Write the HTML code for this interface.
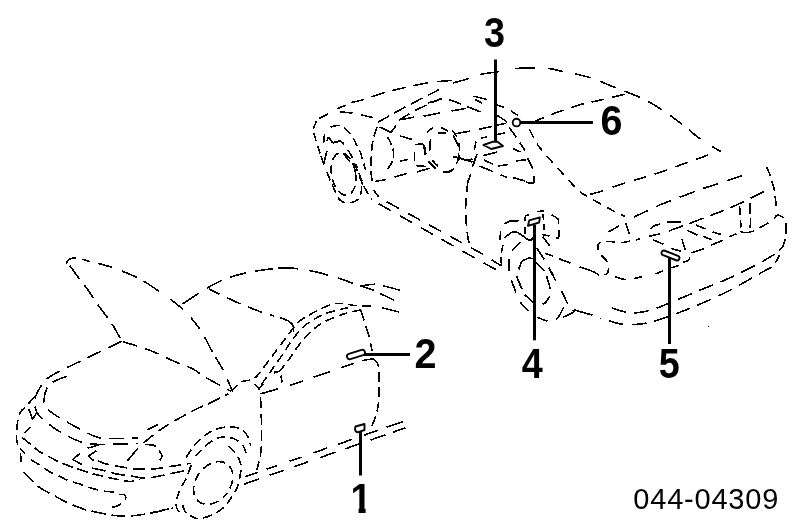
<!DOCTYPE html>
<html lang="en">
<head>
<meta charset="utf-8">
<title>044-04309</title>
<style>
html,body{margin:0;padding:0;background:#fff;}
body{width:800px;height:526px;overflow:hidden;}
svg{display:block;}
.num{font-family:"Liberation Sans",sans-serif;font-weight:bold;font-size:42px;fill:#000;}
.ref{font-family:"Liberation Sans",sans-serif;font-weight:normal;font-size:29px;fill:#000;}
</style>
</head>
<body>
<svg width="800" height="526" viewBox="0 0 800 526" style="will-change:transform">
<rect width="800" height="526" fill="#fff"/>
<g fill="none" stroke="#000" stroke-width="1.6" stroke-linecap="butt" stroke-linejoin="round" shape-rendering="crispEdges">
<path d="M66.5 264C66.7 263.4 66.6 261.4 67.5 260.5C68.4 259.6 70.2 258.7 72 258.3C73.8 257.9 75 257.7 78 258.2C81 258.7 84.7 260.1 90 261.5C95.3 262.9 102.2 264.1 110 266.8C117.8 269.5 128.8 273.4 137 277.5C145.2 281.6 151.3 286 159 291.3C166.7 296.6 176.2 303.1 183 309.5C189.8 315.9 195 322.2 200 329.5C205 336.8 209.2 346.2 213 353C216.8 359.8 219.8 363.7 223 370C226.2 376.3 230.8 387.5 232.3 391" stroke-dasharray="13.4 6.1 8.2 7.9 14.3 10.8 16.4 7.2 18.8 13.5 16.6 10.8 14.9 9.6 16.2 6.6 14.9 10 12.9 50"/>
<path d="M67.5 264C68 264.4 68.2 263.6 70.3 266.3C72.4 269 77.8 276.9 80.3 280.2C82.8 283.5 83 283.3 85.3 286.4C87.6 289.5 91.8 295.6 94.1 299C96.4 302.4 97 303.6 99.1 306.5C101.2 309.4 104.3 313.4 106.6 316.5C108.9 319.6 110.5 321.5 112.9 325.3C115.3 329.1 119.5 337.1 120.8 339.5" stroke-dasharray="16 8" stroke-dashoffset="21"/>
<path d="M121.7 341.3C115.6 344.2 96.9 353.1 85 359C73.1 364.9 57.7 371.6 50.2 376.4C42.7 381.2 42.5 383.8 40 387.7C37.5 391.6 35.3 395.6 35 400C34.7 404.4 34.2 408.9 38 414C41.8 419.1 50.7 425.8 57.7 430.4C64.8 435 73.2 439.3 80.3 441.7C87.3 444.1 93.4 444.1 100 444.5C106.6 444.9 113.7 444.2 120 444C126.3 443.8 135 443.6 138 443.5" stroke-dasharray="15 8"/>
<path d="M66.5 376.4C64.6 377.2 58.1 379.3 55 381C51.9 382.7 49.5 383.3 47.7 386.5C45.9 389.7 44 396.2 44 400C44 403.8 45.4 406.2 47.7 409C50 411.8 53.1 413.7 57.7 416.6C62.3 419.5 69 423.3 75.3 426.6C81.6 429.9 90 434.6 95.4 436.6C100.9 438.6 100.9 438.2 108 438.4C115.1 438.6 133 438.1 138 438" stroke-dasharray="15 8"/>
<path d="M143.5 443C146 441 153.1 434.8 158.5 431C163.9 427.2 169.6 423.8 175.8 420.2C182.1 416.6 190.1 412.2 196 409.3C201.9 406.4 205.6 405.1 211 402.5C216.4 399.9 225.6 395.2 228.5 393.8" stroke-dasharray="13 6"/>
<path d="M147.3 429.8L157.8 424.7"/>
<path d="M122.5 341.6C127.1 343.1 141.2 347 150 350.4C158.8 353.8 167.8 358.6 175 361.7C182.2 364.8 188 366.4 193 369C198 371.6 198.7 373.3 205 377C211.3 380.7 226.7 389 231 391.4" stroke-dasharray="15 8"/>
<path d="M371.3 305.8C368.7 305.8 360.5 306 355.5 305.6C350.5 305.2 345.6 303.6 341.5 303.4C337.4 303.2 335.4 303.2 331 304.6C326.6 306 320.6 308.8 315.3 311.6C310.1 314.4 304.2 317.2 299.5 321.3C294.8 325.4 291.7 330.5 287.3 336C282.9 341.5 277.4 349.1 273.3 354.5C269.2 359.9 265.6 364.9 262.8 368.5C260 372.1 258.7 374.5 256.6 376.4C254.6 378.3 253 379.1 250.5 380C248 380.9 245 379.9 241.8 381.8C238.6 383.7 233.2 389.8 231.5 391.4" stroke-dasharray="9 5"/>
<path d="M348.5 307.6C346.8 308 342.4 308.8 338 310C333.6 311.2 327.8 312.4 322.3 315C316.8 317.6 309.8 321.5 304.8 325.6C299.8 329.7 296.3 334.6 292.5 339.6C288.7 344.6 285.5 350.3 282 355.4C278.5 360.5 274.7 365.8 271.5 370.3C268.3 374.8 264.9 379.6 262.8 382.5C260.7 385.4 259.6 387.1 259 388" stroke-dasharray="9 5"/>
<path d="M360.8 310C358.8 310.4 352.3 311.5 348.5 312.5C344.7 313.5 342.1 314.4 338 316C333.9 317.6 327.5 320.2 324 322C320.5 323.8 319.9 324.2 317 326.5C314.1 328.8 309.7 332.6 306.5 336C303.3 339.4 300.1 343.5 297.8 346.6C295.5 349.7 294.6 351.6 292.5 354.5C290.4 357.4 287.7 361.2 285.5 364C283.3 366.8 281.1 369.5 279.4 371C277.6 372.5 275.7 372.7 275 373" stroke-dasharray="9 5"/>
<path d="M182.6 304C186.8 301.3 199.3 292.2 207.7 287.6C216.1 283 223.6 279.2 232.8 276.3C242 273.4 253.8 271.4 263 270C272.2 268.6 279.7 267.8 288 268C296.3 268.2 304.7 269.6 313 271.3C321.3 273 331.4 276.1 338 278.1C344.6 280.1 350.2 282.4 352.7 283.2" stroke-dasharray="19.4 9.9 17.2 8.3 16.8 8 18.8 5.5 19.8 11.4 19.4 10.3 15.6 50"/>
<path d="M374.8 284.2L360.2 285.7L373.8 290.2" stroke-width="1.5"/>
<path d="M382.9 285.7L400 290.2" stroke-width="1.4"/>
<path d="M380.4 293.7L394 300.3" stroke-width="1.4"/>
<path d="M381.9 307.8L399 311.9" stroke-width="1.4"/>
<path d="M209 289C213.8 291.3 228.8 298.8 237.8 302.7C246.8 306.6 257 310.5 263 312.7C269 314.9 272.2 315.4 274 316" stroke-dasharray="15 8" stroke-dashoffset="3"/>
<path d="M280.3 317.8C281.8 318.4 286.8 319.9 289 321.3C291.2 322.8 292.7 324.7 293.4 326.5C294.1 328.3 293.4 331.1 293.4 332"/>
<path d="M360.8 310L364.3 321L369.5 338L372 351" stroke-dasharray="11 6"/>
<path d="M373 359C373.7 359.7 376.4 360.8 377.4 363C378.4 365.2 378.7 366.2 379 372C379.3 377.8 379.4 390.8 379 397.6C378.6 404.4 377.9 407.9 376.7 412.7C375.5 417.5 372.5 424.2 371.7 426.5" stroke-dasharray="10 5"/>
<path d="M260.4 393.9C265.5 392.4 281.9 387.8 290.8 385C299.7 382.2 305.1 380.2 313.5 377.3C321.9 374.4 333.3 370.4 341.5 367.6C349.7 364.8 357.2 362.1 362.5 360.6C367.8 359.2 371.2 359.2 373 358.9" stroke-dasharray="18 12.2 14.1 11.3 17.3 11.7 13.5 9.3 10.7 50"/>
<path d="M260.4 392.6C260.6 399.7 261.7 424.8 261.7 435.3C261.7 445.8 261.2 449.5 260.4 455.4C259.5 461.2 257.2 467.9 256.6 470.4" stroke-dasharray="11 5" stroke-dashoffset="11"/>
<path d="M274 372.5L278 372" stroke-width="2.2"/>
<path d="M281 375.5L282 382.5"/>
<path d="M255 384L259 389L263 384"/>
<path d="M245.4 476.7L257.9 472.3"/>
<path d="M266.7 469.2L277 465.6"/>
<path d="M289.5 461.3L301.5 457.1"/>
<path d="M313.5 452.8L326.8 448.2"/>
<path d="M338 444.3L352 439.4"/>
<path d="M364 435.2L378 430.3"/>
<path d="M386.7 427.2L403 421.5"/>
<path d="M244 484.2L259 479"/>
<path d="M269.5 475.3L283.5 470.4"/>
<path d="M294 466.7L308 461.8"/>
<path d="M320.4 457.5L335.5 452.2"/>
<path d="M345.3 448.8L360.4 443.6"/>
<path d="M370.4 440.1L385.5 434.8"/>
<path d="M393 432.2L405.5 427.8"/>
<path d="M186.2 457.3C187.9 454.9 192.6 447.1 196.3 443C200 438.9 204.4 435.5 208.4 433C212.4 430.5 216.4 429 220.4 428C224.4 427 228.8 426.7 232.5 427C236.2 427.3 239.9 428.2 242.6 430C245.3 431.8 247.2 435.3 248.6 438C249.9 440.7 250.3 444.7 250.7 446" stroke-dasharray="9 5"/>
<path d="M195.3 456.3C197.1 454.4 203 448.1 206.3 445.2C209.7 442.3 212.4 440.4 215.4 439C218.4 437.6 221.3 437 224.5 437C227.7 437 231.5 437.7 234.5 439C237.5 440.3 240.6 442.5 242.6 445C244.6 447.5 245.9 452.7 246.6 454.2" stroke-dasharray="9 5"/>
<path d="M228.5 446.2C229.7 447.4 233.5 450.3 235.5 453.2C237.5 456.1 239.8 460.1 240.6 463.3C241.4 466.5 241.1 468.5 240.6 472.4C240.1 476.3 239.3 482.1 237.6 486.5C235.9 490.9 232.7 495.2 230.5 498.6C228.3 502 227.2 504.1 224.5 506.6C221.8 509.1 218.4 511.7 214.4 513.7C210.4 515.7 204 518.2 200.3 518.7C196.6 519.2 194.7 517.9 192.2 516.7C189.7 515.5 187 514.4 185.2 511.7C183.4 509 181.9 502.5 181.2 500.6" stroke-dasharray="9 5"/>
<path d="M226.8 493.2C225.6 494.9 224.1 496.4 222.7 497.7C221.2 499.1 219.5 500.3 217.9 501.2C216.2 502.2 214.5 503 212.8 503.5C211.1 504 209.4 504.3 207.7 504.4C206.1 504.4 204.5 504.2 203.1 503.8C201.6 503.3 200.2 502.7 199.1 501.8C197.9 500.9 196.8 499.8 196 498.5C195.2 497.2 194.6 495.7 194.2 494.1C193.8 492.6 193.6 490.8 193.6 489C193.6 487.3 193.9 485.4 194.4 483.5C194.8 481.7 195.6 479.8 196.4 478C197.3 476.2 198.4 474.4 199.6 472.8C200.8 471.1 202.3 469.6 203.7 468.3C205.2 466.9 206.9 465.7 208.5 464.8C210.2 463.8 211.9 463 213.6 462.5C215.3 462 217 461.7 218.7 461.6C220.3 461.6 221.9 461.8 223.3 462.2C224.8 462.7 226.2 463.3 227.3 464.2C228.5 465.1 229.6 466.2 230.4 467.5C231.2 468.8 231.8 470.3 232.2 471.9C232.6 473.4 232.8 475.2 232.8 477C232.8 478.7 232.5 480.6 232 482.5C231.6 484.3 230.8 486.2 230 488C229.1 489.8 228 491.6 226.8 493.2Z" stroke-dasharray="9 5.5" stroke-dashoffset="3"/>
<path d="M191.2 465.3C190.4 467.5 188 474.4 186.2 478.4C184.3 482.4 181.8 485.5 180.1 489.5C178.4 493.5 176.4 499.1 176.1 502.6C175.8 506.1 176.9 508.8 178.1 510.7C179.2 512.6 182.2 513.5 183 514" stroke-dasharray="9 5"/>
<path d="M150 513L172.6 508" stroke-dasharray="8 4"/>
<path d="M35 396C33.6 397.7 28.9 403.3 26.5 406C24.1 408.7 22 409.2 20.5 412C19 414.8 18.1 418.8 17.5 422.5C16.9 426.2 16.7 431.2 16.6 434.5C16.5 437.8 16.5 439.7 17 442C17.5 444.3 19.3 447.4 19.8 448.5" stroke-dasharray="10 5"/>
<path d="M19.8 448.5L25 453.8"/>
<path d="M20.5 453L21.3 465.8" stroke-dasharray="9 4"/>
<path d="M23.5 471.8C25.4 473.7 31.9 480.2 34.8 483C37.7 485.8 37 485.9 40.8 488.3C44.5 490.7 52.7 494.8 57.3 497.3C61.9 499.8 64.1 501.3 68.6 503.3C73.1 505.3 80.1 507.9 84.3 509.3C88.5 510.7 90 510.7 94 511.6C98 512.5 104.3 513.9 108.3 514.6C112.3 515.3 114.4 515.6 118 515.8C121.6 516 124.6 516.4 130 516C135.4 515.6 143.4 514.5 150.6 513.2C157.8 511.9 169.3 508.9 173 508" stroke-dasharray="14 6"/>
<path d="M28.8 409L32.5 419.5L37 412"/>
<path d="M24.3 433L30.3 427"/>
<path d="M22 437.5C23.8 438.9 29.6 443.5 32.5 445.8C35.4 448.1 36 449.4 39.3 451.5C42.5 453.6 48.1 456.3 52 458.3C55.9 460.3 58.6 461.9 62.5 463.5C66.4 465.1 71.8 466.8 75.3 468C78.8 469.2 80.6 470 83.6 471C86.6 472 90.6 473.2 93.3 474C96 474.8 97.2 474.9 100 475.5C102.8 476.1 105.7 476.9 109.8 477.8C113.9 478.7 121.3 480.2 124.8 480.8C128.3 481.4 128.5 481.7 131 481.5C133.5 481.3 138.5 480.1 140 479.8" stroke-dasharray="11 5"/>
<path d="M79.8 453.6L72.6 459.6L82 464.4" stroke-width="1.6"/>
<path d="M91.8 468C94.7 468.6 104.9 470.8 109 471.8C113.1 472.8 112.9 473.3 116.6 474C120.3 474.7 126.2 475.3 131 476C135.8 476.7 140.5 478.3 145.3 478.3C150.1 478.3 155.6 476.8 159.6 476C163.6 475.2 165.3 474.7 169.3 473.8C173.3 472.9 180.2 471.9 183.6 470.8C187 469.8 188.9 468.1 190 467.5" stroke-dasharray="14 6"/>
<path d="M96.4 450.6L88.5 456.2L93.8 460.8" stroke-width="1.6"/>
<path d="M98 461C99.4 461.5 103.7 463.2 106.3 464C108.9 464.8 110.4 464.9 113.8 465.5C117.2 466.1 123.2 467.2 126.5 467.8C129.8 468.4 129.3 468.6 133.3 468.8C137.3 469 146.5 468.9 150.6 468.8C154.7 468.8 154.5 468.9 158 468.5C161.5 468.1 168.1 466.9 171.6 466.3C175.1 465.8 175.8 465.7 179 465.2C182.2 464.7 189 463.6 191 463.3" stroke-dasharray="12 6"/>
<path d="M87.5 448.3L99.5 444.5"/>
<path d="M145.3 444.5C146.7 444.6 151.6 444.7 153.6 445.3C155.6 445.9 155.9 446.7 157.3 448.3C158.7 449.9 161.2 453.2 161.8 455C162.4 456.8 161.8 457.6 161 458.8C160.2 460.1 157.9 461.9 157.3 462.5" stroke-dasharray="11 5"/>
<path d="M137.8 448.3L127.3 461" stroke-width="1.7"/>
<path d="M31 459.8C32.6 460.8 37.7 463.8 40.8 465.8C43.9 467.8 46.7 470.1 49.8 471.8C52.9 473.6 56.4 474.8 59.5 476.3C62.6 477.8 65.3 479.6 68.6 480.8C71.8 482.1 76 482.8 79 483.8C82 484.8 83.5 485.8 86.6 486.8C89.7 487.8 94.8 489.1 97.8 489.8C100.8 490.6 102.1 490.9 104.6 491.3C107.1 491.7 110.3 491.5 112.8 492C115.3 492.5 117.6 493.8 119.6 494.3C121.6 494.8 123.8 494.1 124.8 495C125.8 495.9 125.9 498.1 125.3 499.5C124.7 500.9 122.5 502.2 121 503.3C119.5 504.4 119 505.6 116.6 506.3C114.2 507.1 108.4 507.6 106.8 507.8" stroke-dasharray="10 6"/>
<path d="M319.3 118.4C320.8 117.7 325.1 115.6 328 114C330.9 112.4 333.9 110.2 336.8 108.8C339.7 107.4 343.1 106.5 345.5 105.5C347.9 104.5 348.4 103.6 351.4 102.6C354.4 101.6 358.1 101.3 363.6 99.6C369.1 97.9 377.6 94.6 384.6 92.6C391.6 90.6 398.3 89.1 405.6 87.4C412.9 85.8 420.7 83.9 428.4 82.7C436.1 81.5 448.1 80.8 452 80.4" stroke-dasharray="9.8 10.2 9.3 6.6 12.6 8.2 13.9 8.1 13.6 8 15.3 8.5 15.2 50"/>
<path d="M452.9 83C455.5 82.3 464.1 80 468.6 78.6C473.1 77.2 474.9 75.7 480 74.5C485.1 73.3 493.1 72.5 499 71.5C504.9 70.5 509.2 69.2 515.3 68.6C521.4 68 529.9 67.8 535.4 67.8C540.9 67.8 543.4 67.7 548 68.3C552.6 68.9 558.4 70.5 563 71.5C567.6 72.5 570.9 73 575.5 74C580.1 75 586.4 76.5 590.6 77.8C594.8 79 596.4 79.8 600.6 81.5C604.8 83.2 609 85.1 615.7 87.8C622.4 90.5 633.1 94.2 640.6 97.7C648.1 101.2 654.1 104.8 660.7 109C667.3 113.2 673.4 117.7 680 122.7C686.6 127.7 693.5 134.1 700.4 139C707.3 143.9 717.8 149.8 721.3 151.9" stroke-dasharray="16.3 12.1 19.2 16.6 20.1 12.6 15.3 12.7 15.6 10.7 16.4 9.5 16.7 8.9 15.9 10.5 15.2 8.5 14.4 13.9 10.7 50"/>
<path d="M316.5 121C315.9 122.5 313.5 127.2 313.2 129.8C312.9 132.4 314.2 134.2 314.9 136.8C315.6 139.4 316.5 142.3 317.5 145.5C318.5 148.7 320.4 154.2 321 156" stroke-dasharray="8 5"/>
<path d="M321 156L323.6 163.9L327 150.8"/>
<path d="M327 171.8C327.5 173.1 328.8 177 329.8 179.5C330.9 182 331.7 183.7 333.3 187C334.9 190.3 336.9 196.8 339.4 199.5C341.8 202.2 344.9 203 348 203C351.1 203 355.6 201.5 357.8 199.5C360 197.5 360.7 193.7 361.3 190.8C361.9 187.9 361.3 183.5 361.3 182" stroke-dasharray="9 5"/>
<path d="M340.3 111.9L352.5 113"/>
<path d="M361.3 114.9L372.6 117.5"/>
<path d="M377.6 122.4L409 104.9L427.5 95.6L445 86.5" stroke-dasharray="13 6"/>
<path d="M398.6 120.6L413.5 111L441.5 98.4" stroke-dasharray="13 6"/>
<path d="M400.4 119.8L414.4 117"/>
<path d="M330.6 127C332.2 126.7 337.7 124.9 340.3 125.4C342.9 125.9 344.4 127.9 346.4 129.8C348.4 131.7 350.9 134.5 352.5 136.8C354.1 139.1 354.7 141.2 356 143.8C357.3 146.4 359.2 149.6 360.4 152.5C361.6 155.4 362.1 158.4 363 161.3C363.9 164.2 365.2 168.6 365.6 170" stroke-dasharray="9 5"/>
<path d="M324.5 134L323.6 142.9"/>
<path d="M327 141C327.2 140.4 327.6 137.3 328.5 137.6C329.4 137.8 331.8 141.7 332.4 142.5"/>
<path d="M332.4 142.9L340.3 141L344 144" stroke-width="1.8"/>
<path d="M355.3 171.9C355.6 173.7 355.8 175.7 355.9 177.5C355.9 179.3 355.8 181.1 355.6 182.8C355.4 184.5 355 186.1 354.5 187.5C354 188.9 353.4 190.2 352.6 191.3C351.9 192.4 351.1 193.3 350.2 193.9C349.3 194.6 348.3 195 347.2 195.2C346.2 195.4 345.1 195.3 344 195C343 194.7 341.9 194.1 340.8 193.4C339.8 192.6 338.7 191.6 337.8 190.4C336.8 189.3 335.9 187.9 335.1 186.4C334.3 184.9 333.6 183.2 333.1 181.5C332.5 179.8 332 177.9 331.7 176.1C331.4 174.3 331.2 172.3 331.1 170.5C331.1 168.7 331.2 166.9 331.4 165.2C331.6 163.5 332 161.9 332.5 160.5C333 159.1 333.6 157.8 334.4 156.7C335.1 155.6 335.9 154.7 336.8 154.1C337.7 153.4 338.7 153 339.8 152.8C340.8 152.6 341.9 152.7 343 153C344 153.3 345.1 153.9 346.2 154.6C347.2 155.4 348.3 156.4 349.2 157.6C350.2 158.7 351.1 160.1 351.9 161.6C352.7 163.1 353.4 164.8 353.9 166.5C354.5 168.2 355 170.1 355.3 171.9Z" stroke-dasharray="9 5"/>
<path d="M342.9 153.4L349.9 161.3"/>
<path d="M348 149.9L352.5 157.8"/>
<path d="M354.3 163C354.9 164.5 356.8 169.2 357.8 171.8C358.8 174.4 359.4 176.2 360.4 178.8C361.4 181.4 363.3 186.1 363.9 187.5" stroke-dasharray="9 5"/>
<path d="M356 164.5C356.7 166.6 359.1 173.2 360.4 176.8C361.7 180.5 362.7 183.8 363.9 186.4C365.1 189 366.1 190.3 367.4 192.5C368.7 194.7 371.1 198.3 371.8 199.5" stroke-dasharray="9 5" stroke-dashoffset="5"/>
<path d="M373.5 190L378.8 197"/>
<path d="M377 127C376.4 128.8 374.4 133.9 373.5 137.6C372.6 141.3 372.2 145.1 371.8 149C371.4 152.9 371.3 157.2 371.2 161.3C371.1 165.4 371 169.7 371.2 173.5C371.4 177.3 372.4 182.2 372.6 184" stroke-dasharray="10 5"/>
<path d="M379.6 127L391 132.4L396.3 125.4"/>
<path d="M387.5 136.8C388.1 138 390 141.2 391 143.8C392 146.4 393.3 149.7 393.6 152.5C393.9 155.3 393.5 158.1 392.8 160.4C392.1 162.7 390.6 164.6 389.3 166.5C388 168.4 385.6 170.9 384.9 171.8" stroke-dasharray="9 4"/>
<path d="M399.8 161.3L407.6 159.5"/>
<path d="M399.8 135.9L412 139.4"/>
<path d="M414.6 151.6L414.6 161.3"/>
<path d="M415.5 144.6L423.4 143.8"/>
<path d="M424.3 144.6L426 154.3"/>
<path d="M416.4 165.6L426 166.5"/>
<path d="M417.3 171.8L429.5 168.3"/>
<path d="M428.6 161.3L434.8 168.3"/>
<path d="M432 160.4L438 166"/>
<path d="M375.3 181.4L385.8 179.6"/>
<path d="M394.5 177L406.8 173.5"/>
<path d="M378.8 203.9L475.7 258.5L504.5 274.3" stroke-dasharray="14 10"/>
<path d="M385.8 201.3L480.7 253L501.5 266" stroke-dasharray="14 10" stroke-dashoffset="-1"/>
<path d="M497 115.4C498.6 116.5 506.6 120.8 506.6 122.4C506.6 124 498.6 124.6 497 125"/>
<path d="M497 104.9L504 107.5"/>
<path d="M511 111L518 115.4"/>
<path d="M509.3 127.6L516.3 137.3"/>
<path d="M519.8 142.5L525 150.4"/>
<path d="M527.6 158.3L532.9 168.8"/>
<path d="M533.8 175.8L533.8 181"/>
<path d="M497 134.6L504.9 132.9"/>
<path d="M481.3 138.1L487.4 136.9"/>
<path d="M478.6 129.4L491.8 126.4"/>
<path d="M455 133.8L469.9 131.1"/>
<path d="M476 141.6L474.3 149.5"/>
<path d="M476.9 153.9L472.5 167"/>
<path d="M470.8 174L468.1 181"/>
<path d="M458.5 153L459.4 160"/>
<path d="M466.4 160L472.5 159.1"/>
<path d="M453.3 135.5L458.5 146"/>
<path d="M441 127.6L448 131.1"/>
<path d="M430.5 139L429.6 151.3"/>
<path d="M423.5 144.3L425.3 154.8"/>
<path d="M427 132L433.1 127.6"/>
<path d="M442.8 172.3C443.9 172.2 447.9 172.5 449.8 171.9C451.6 171.3 453.4 169.3 454.1 168.8"/>
<path d="M428.8 161.8L435.8 168.8"/>
<path d="M432.3 160L436.6 165.3"/>
<path d="M427.9 103.1L441.9 98.8"/>
<path d="M423.5 116.3L440.1 112.8"/>
<path d="M451.5 111L465.5 108.4"/>
<path d="M448.9 99.6L461.1 104"/>
<path d="M467.3 106.6L480.4 111.9"/>
<path d="M473.4 96.1L487.4 99.6"/>
<path d="M475.1 99.6L482.1 103.1"/>
<path d="M483 155.6L497 152.1"/>
<path d="M483.9 160L493.5 164.4"/>
<path d="M479.5 166.1L492.6 171.4"/>
<path d="M497.9 166.1L508.4 164.4"/>
<path d="M500.5 174.9L507.5 177.5"/>
<path d="M512.8 148.6L520.6 152.1"/>
<path d="M516.3 160.9L525.9 159.7"/>
<path d="M512.8 177.5L525 181"/>
<path d="M453.3 156.5L472.5 161.8" stroke-width="1.9"/>
<path d="M437.5 132.9L446.3 132.9" stroke-width="1.9"/>
<path d="M525.9 182.2C527 182.4 531.1 183.5 532.6 183.3C534.1 183.1 534.3 181.4 534.6 181"/>
<path d="M452 130.5C452.2 130.8 453 131.4 453.5 132C453.9 132.5 454.4 133 454.8 133.6C455.2 134.2 455.6 134.9 456 135.5C456.4 136.2 456.7 136.9 457 137.6C457.4 138.4 457.6 139.1 457.9 139.9C458.2 140.7 458.4 141.5 458.6 142.3C458.8 143.1 459 144 459.1 144.8C459.2 145.7 459.3 146.5 459.4 147.4C459.5 148.3 459.5 149.1 459.5 150C459.5 150.9 459.5 151.7 459.4 152.6C459.3 153.5 459.2 154.3 459.1 155.2C459 156 458.8 156.9 458.6 157.7C458.4 158.5 458.2 159.3 457.9 160.1C457.6 160.9 457.4 161.6 457 162.4C456.7 163.1 456.4 163.8 456 164.5C455.6 165.1 455.2 165.8 454.8 166.4C454.4 167 453.9 167.5 453.5 168C453 168.6 452.5 169.1 452 169.5C451.5 169.9 451 170.3 450.4 170.7C449.9 171 449.4 171.3 448.8 171.6C448.2 171.8 447.7 172 447.1 172.2C446.5 172.3 446 172.4 445.4 172.5C444.8 172.5 444.2 172.5 443.6 172.5C443 172.4 442.2 172.2 441.9 172.2" stroke-dasharray="8 6"/>
<path d="M468 181C467.8 182.5 467.3 184.7 466.9 190C466.5 195.3 465.4 204.8 465.6 212.8C465.8 220.8 467.2 232.6 468 238C468.8 243.4 470.2 244.2 470.6 245.4" stroke-dasharray="11 6"/>
<path d="M532 122.4L555.3 113L580.4 104.5L605.5 99L625.5 94" stroke-dasharray="13 8"/>
<path d="M529.4 129.4C530.3 131.2 533.1 137.1 535 140.4C536.9 143.7 537.5 144.8 540.9 149C544.3 153.2 549.1 158.7 555.3 165.5C561.5 172.3 572.2 184.6 578 190C583.8 195.4 586 195.4 590 197.9C594 200.4 597.9 202.5 602.3 204.9C606.7 207.3 612.5 210.5 616.3 212.4C620.1 214.3 623.5 215.7 625 216.3" stroke-dasharray="9 7"/>
<path d="M590 194.4L603 190.9"/>
<path d="M612.5 187L660 172.4L713.4 153.1" stroke-dasharray="13 9"/>
<path d="M633.8 217.1L660 204.8L700.3 189.4L750.1 172.9" stroke-dasharray="16 9"/>
<path d="M766.8 167.1C767.4 168.6 769.4 173.4 770.3 175.9C771.2 178.4 771.3 179.5 772 182C772.7 184.5 774 187.9 774.6 190.8C775.2 193.7 775.1 196.3 775.5 199.5C775.9 202.7 776.6 208.1 776.8 209.8" stroke-dasharray="10 5"/>
<path d="M773.8 218.8C774.4 218.2 776 215.1 777.6 214.9C779.2 214.7 782.6 217.2 783.6 217.7"/>
<path d="M785.9 223.3L785.9 233.8"/>
<path d="M785 239.3C784.6 240.5 783.9 244.7 782.9 246.5C781.9 248.3 779.6 249.7 779 250.3"/>
<path d="M779.8 254.8L775.3 263"/>
<path d="M648.6 236.4L660 233.8"/>
<path d="M668.8 231L689.8 223.3L727.4 209.1L748.4 199.5L768.5 189" stroke-dasharray="15 7"/>
<path d="M650.4 229.4C651 228.8 652.3 226.8 653.9 225.9C655.5 225 659 224.4 660 224.1"/>
<path d="M667 221.9L681 221.9" stroke-width="1.8"/>
<path d="M653 239.9L663.5 244.3"/>
<path d="M691.5 253L703.8 248.6"/>
<path d="M710.8 245.1L723 240.4"/>
<path d="M729.5 236.8L736.3 233.8"/>
<path d="M759.6 227.8L768.6 222.8"/>
<path d="M739.6 206.5L740.2 215.3"/>
<path d="M740.5 219.6L741 227.5"/>
<path d="M750.1 203L750.1 213.5"/>
<path d="M750.7 217.9L750.1 228.4"/>
<path d="M740 231.3C741 231.5 743.6 232.8 746 232.7C748.4 232.6 752.9 231.3 754.3 231"/>
<path d="M687.1 230.3L697.6 235.2"/>
<path d="M702.9 236.4L711.6 239.5"/>
<path d="M695.9 225L705.5 228.9"/>
<path d="M712.5 231.7L721.3 234.6"/>
<path d="M681.9 239L685.4 250.4"/>
<path d="M671.4 248.6L681 251.3"/>
<path d="M682.8 262.6C683.8 262.2 687.7 260.9 688.9 260C690.1 259.1 689.6 257.8 689.8 257.4"/>
<path d="M671.4 267.9L679.3 265.3"/>
<path d="M655.6 274L663.5 270.5"/>
<path d="M614.5 276.6C616.2 277.1 621.9 279.2 625 279.6C628.1 280 630 279.3 632.9 278.8C635.8 278.3 640.9 277 642.5 276.6" stroke-dasharray="12 8"/>
<path d="M625.9 223.3L629.4 233.8"/>
<path d="M608.4 232L618.9 225.9"/>
<path d="M607.5 306.5C611.2 307.6 622.9 312.2 630 312.8C637.1 313.4 643.3 312 650 310.3C656.7 308.6 661.6 306.1 670 302.7C678.4 299.3 690.3 294.2 700.4 290C710.5 285.8 720.5 282.2 730.5 277.6C740.5 273 753.1 266.5 760.6 262.5C768.1 258.5 772.8 255.2 775.3 253.8" stroke-dasharray="15 8" stroke-dashoffset="18.5"/>
<path d="M600.5 317.7C603.9 318.8 613.9 322.9 620.6 324C627.3 325.1 634.5 324.7 640.7 324C646.9 323.3 652.2 321.7 658 320C663.8 318.3 668.2 316.7 675.3 314C682.4 311.3 691.2 308 700.4 304C709.6 300 720.4 295.2 730.5 290C740.6 284.8 754.1 276.6 761 272.8C767.9 269 769.8 268.2 771.6 267.3" stroke-dasharray="15 8" stroke-dashoffset="14"/>
<path d="M524.8 215.8L529.3 214.7"/>
<path d="M536.8 211.7L544.3 210.8"/>
<path d="M524.8 216.5L525.2 221"/>
<path d="M524.8 227L525.2 233.8"/>
<path d="M542.8 214.3L543.6 220.3"/>
<path d="M543.9 224L544.3 230"/>
<path d="M504.5 224C505.5 223.5 508.1 221.6 510.5 221C512.9 220.5 517.4 220.8 518.8 220.7"/>
<path d="M500.8 231.5L499.7 240.5"/>
<path d="M503 245L501.2 252.6"/>
<path d="M500.8 257.1L501.5 264.6"/>
<path d="M551.8 215C552.8 215.6 556.7 217.3 557.8 218.8C558.9 220.3 558.4 223.1 558.6 224"/>
<path d="M559.3 230C559.2 231.3 559.1 236.2 558.6 237.5C558.1 238.9 556.7 238.2 556.3 238.3"/>
<path d="M504.5 237.5C505.8 236.7 509.9 233.2 512 232.3C514.2 231.4 515.3 231.5 517.3 232.3C519.3 233 521.9 235.4 524 236.8C526.2 238.2 528.5 240.4 530 240.5C531.5 240.7 532.5 238 533 237.5"/>
<path d="M512 250.3L520.3 242"/>
<path d="M509 259.3L509 270.6"/>
<path d="M542.1 234.5L549.6 236"/>
<path d="M542.8 236.8L549.6 245.8"/>
<path d="M536.8 248L544.3 259.3"/>
<path d="M548.8 267.6L554.1 276.6"/>
<path d="M545.1 253.3L553.3 256.3"/>
<path d="M558.6 258.6L570.6 263.1"/>
<path d="M579.6 266.8L594.6 272.1"/>
<path d="M518.8 269.3C519.3 268 520.2 263.6 521.8 261.8C523.4 259.9 526.5 258.8 528.5 258.3C530.5 257.8 532.9 258.7 533.8 258.8"/>
<path d="M536.1 262.2L544.3 270.8"/>
<path d="M546.6 276L550.3 288.8"/>
<path d="M549.9 296.3C549.2 297.3 547 301 545.8 302.3C544.6 303.6 543.3 303.9 542.8 304.2"/>
<path d="M524.8 294.8L533 302.3"/>
<path d="M511.3 279.8L515.8 292.5"/>
<path d="M520.3 302.3L528.5 311.3"/>
<path d="M548.8 267.8L555.6 280.5"/>
<path d="M561.6 291L567.6 303.8"/>
<path d="M563.8 306.8C563.2 308.1 561.3 312.2 560.1 314.3C558.8 316.4 556.9 318.7 556.3 319.6"/>
<path d="M536.8 317.3L547.3 321.1"/>
<path d="M563.1 317.3C564.8 316.4 572.1 313.3 573.6 312.1C575.1 310.8 572.3 310.2 572.1 309.8"/>
<path d="M573.6 309.8L592.4 315.1"/>
<path d="M516.5 276L521.8 288.8" stroke-width="1.8"/>
<path d="M594.6 272.3C595.7 272.9 599.2 275.7 601.4 275.8C603.5 275.9 606.3 274.5 607.5 273C608.7 271.5 608.5 269 608.4 267C608.2 265 608.1 263.2 606.6 260.9C605.1 258.6 601.1 255.5 599.6 253C598.1 250.5 597.9 247.8 597.9 246C597.9 244.2 598.1 243.3 599.6 242.5C601.1 241.7 603.1 241.3 606.6 241.3C610.1 241.3 617.1 242.4 620.6 242.5C624.1 242.6 624.4 242.2 627.6 241.6C630.8 241 637.9 239.4 639.9 239" stroke-dasharray="9 6" stroke-dashoffset="4"/>
</g>

<g fill="none" stroke="#000" stroke-width="3">
<path d="M360.5 432V475.5"/>
<path d="M364 354.5H410"/>
<path d="M495.5 59.5V142"/>
<path d="M534.5 224.8V340.3"/>
<path d="M669.5 258V344"/>
<path d="M520.5 122.5H593"/>
</g>
<g fill="#fff" stroke="#000" stroke-width="1.9" stroke-linejoin="round">
<path d="M355.5 426.5L364.5 424L364.5 430L357.5 432.3Q354 431 355.5 426.5Z"/>
<rect x="346.7" y="351.8" width="18.6" height="5.4" rx="2.6" transform="rotate(-17 356 354.5)"/>
<path d="M483.4 145L492.5 141.8L497.5 141.8L503 146L491.3 149Z"/>
<path d="M529.3 220.3L539.8 217.3L539.2 222.5L528 225.8Z"/>
<rect x="661.1" y="253.1" width="18.8" height="4.8" rx="2.4" transform="rotate(21 670.5 255.5)"/>
<circle cx="516.5" cy="122.6" r="3.8"/>
</g>
<clipPath id="c1"><path d="M350 480H365.6V515H358.6V500H350Z"/></clipPath>
<g class="num">
<text x="350.4" y="513" textLength="21" lengthAdjust="spacingAndGlyphs" clip-path="url(#c1)">1</text>
<text x="414.4" y="368" textLength="22" lengthAdjust="spacingAndGlyphs">2</text>
<text x="484" y="47" textLength="21" lengthAdjust="spacingAndGlyphs">3</text>
<text x="521.8" y="378.4" textLength="21" lengthAdjust="spacingAndGlyphs">4</text>
<text x="658.8" y="378.4" textLength="21" lengthAdjust="spacingAndGlyphs">5</text>
<text x="600.5" y="135.4" textLength="22" lengthAdjust="spacingAndGlyphs">6</text>
</g>
<rect x="708" y="326" width="1" height="1" fill="#000"/>
<text class="ref" x="633.3" y="508.8" textLength="145" lengthAdjust="spacing">044-04309</text>

</svg>
</body>
</html>
